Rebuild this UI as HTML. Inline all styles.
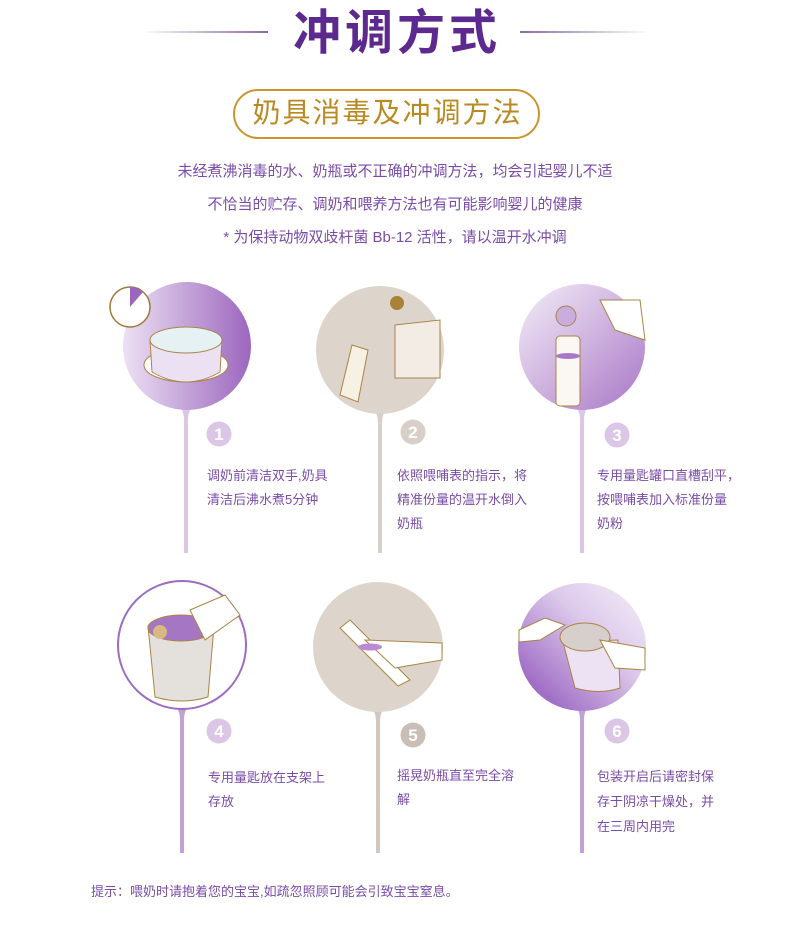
<!DOCTYPE html>
<html><head><meta charset="utf-8"><style>
body{margin:0;background:#fff;}
#w{position:relative;width:790px;height:936px;overflow:hidden;font-family:"Liberation Sans","Noto Sans CJK SC",sans-serif;}
.t{position:absolute;color:#7a4ca8;font-size:13px;line-height:24px;white-space:nowrap;}
.c{position:absolute;color:#7a4ca8;font-size:15px;width:790px;text-align:center;}
</style></head><body><div id="w">
<svg width="790" height="936" style="position:absolute;left:0;top:0">
<defs>
<linearGradient id="g1" x1="0" x2="1"><stop offset="0" stop-color="#ece1f3"/><stop offset="1" stop-color="#9c66be"/></linearGradient>
<linearGradient id="g3" x1="0" y1="0" x2="1" y2="1"><stop offset="0" stop-color="#f4eef8"/><stop offset="1" stop-color="#a877c6"/></linearGradient>
<linearGradient id="g6" x1="0" y1="1" x2="1" y2="0"><stop offset="0" stop-color="#8a4db8"/><stop offset="0.6" stop-color="#dcc8ea"/><stop offset="1" stop-color="#f5f0f9"/></linearGradient>
<linearGradient id="ln" x1="0" x2="1"><stop offset="0" stop-color="#fff"/><stop offset="1" stop-color="#8a6aa8"/></linearGradient>
<linearGradient id="ln2" x1="1" x2="0"><stop offset="0" stop-color="#fff"/><stop offset="1" stop-color="#8a6aa8"/></linearGradient>
</defs>
<rect x="140" y="31" width="128" height="2" fill="url(#ln)"/>
<rect x="520" y="31" width="130" height="2" fill="url(#ln2)"/>
<rect x="234" y="90" width="305" height="48" rx="24" fill="#fff" stroke="#c9962e" stroke-width="2"/>
<g fill="#dcc6e6"><path d="M175 402 Q184 408 184 420 L184 553 L188 553 L188 420 Q188 408 197 402Z"/></g>
<g fill="#d8cfc8"><path d="M369 405 Q378 411 378 423 L378 553 L382 553 L382 423 Q382 411 391 405Z"/></g>
<g fill="#dcc6e6"><path d="M571 402 Q580 408 580 420 L580 553 L584 553 L584 420 Q584 408 593 402Z"/></g>
<g fill="#c3a1d4"><path d="M171 702 Q180 708 180 720 L180 853 L184 853 L184 720 Q184 708 193 702Z"/></g>
<g fill="#d1c9c1"><path d="M368 704 Q376 710 376 722 L376 853 L380 853 L380 722 Q380 710 388 704Z"/></g>
<g fill="#c3a1d4"><path d="M571 702 Q580 708 580 720 L580 853 L584 853 L584 720 Q584 708 593 702Z"/></g>
<circle cx="187" cy="346" r="64" fill="url(#g1)"/>
<circle cx="130" cy="307" r="20" fill="#fff" stroke="#9c7a3a" stroke-width="1.5"/>
<path d="M130 307 L130 287 A20 20 0 0 1 143 292Z" fill="#9c66be"/>
<ellipse cx="186" cy="365" rx="42" ry="17" fill="#fff" stroke="#a98446"/>
<path d="M150 340 L152 372 Q186 392 220 372 L222 340Z" fill="#ece1f3" stroke="#a98446"/>
<ellipse cx="186" cy="340" rx="36" ry="13" fill="#e6f1f4" stroke="#a98446"/>
<circle cx="380" cy="350" r="64" fill="#ddd5cc"/>
<path d="M395 325 L440 320 L440 378 L395 378Z" fill="#f3ece4" stroke="#a98446"/>
<circle cx="397" cy="303" r="7" fill="#a88235"/>
<path d="M340 395 L352 345 L368 350 L358 402Z" fill="#f6f1e2" stroke="#a98446"/>
<circle cx="582" cy="347" r="63" fill="url(#g3)"/>
<rect x="556" y="336" width="24" height="70" rx="4" fill="#fbf8f4" stroke="#a98446"/>
<ellipse cx="568" cy="356" rx="12" ry="3" fill="#a877c6"/>
<circle cx="566" cy="316" r="10" fill="#c9aedd" stroke="#a98446"/>
<path d="M600 300 L640 300 L645 340 L615 330Z" fill="#fff" stroke="#a98446"/>
<circle cx="182" cy="645" r="64" fill="#fff" stroke="#9d6cc0" stroke-width="2"/>
<path d="M148 626 L155 697 Q182 705 208 697 L214 626Z" fill="#e4e0dc" stroke="#a98446"/>
<ellipse cx="181" cy="628" rx="33" ry="13" fill="#a476c4" stroke="#a98446"/>
<circle cx="160" cy="632" r="7" fill="#d9b983"/>
<path d="M190 610 L225 595 L240 615 L205 640Z" fill="#fff" stroke="#a98446"/>
<circle cx="378" cy="647" r="65" fill="#ddd5cc"/>
<path d="M340 628 L350 620 L410 680 L398 686Z" fill="#fff" stroke="#a98446"/>
<path d="M365 640 L442 643 L442 660 L395 668Z" fill="#fff" stroke="#a98446"/>
<ellipse cx="370" cy="647" rx="12" ry="3.5" fill="#b88bd2"/>
<circle cx="582" cy="647" r="64" fill="url(#g6)"/>
<path d="M563 642 L575 688 Q600 695 620 688 L618 640Z" fill="#ede2f3" stroke="#a98446"/>
<ellipse cx="585" cy="637" rx="25" ry="14" fill="#d6cfcc" stroke="#a98446"/>
<path d="M519 630 L545 618 L565 625 L540 640 L519 642Z" fill="#fff" stroke="#a98446"/>
<path d="M600 640 L645 648 L645 670 L615 668Z" fill="#fff" stroke="#a98446"/>
<g font-family="Liberation Sans,sans-serif" font-weight="bold" font-size="17" fill="#fff" text-anchor="middle">
<circle cx="219" cy="434" r="12.5" fill="#dcc6e6"/><text x="219" y="440">1</text>
<circle cx="413" cy="432" r="12.5" fill="#d8cfc8"/><text x="413" y="438">2</text>
<circle cx="617" cy="435" r="12.5" fill="#dcc6e6"/><text x="617" y="441">3</text>
<circle cx="219" cy="731" r="12.5" fill="#dcc6e6"/><text x="219" y="737">4</text>
<circle cx="413" cy="735" r="12.5" fill="#c9beb5"/><text x="413" y="741">5</text>
<circle cx="617" cy="731" r="12.5" fill="#dcc6e6"/><text x="617" y="737">6</text>
</g>
</svg>
<div style="position:absolute;left:0;width:790px;top:4px;text-align:center;font-size:48px;font-weight:bold;color:#5c2a8e;line-height:60px;letter-spacing:4px;text-indent:4px">冲调方式</div>
<div style="position:absolute;left:234px;width:307px;top:92px;text-align:center;font-size:28px;color:#b98a22;line-height:42px;letter-spacing:2px">奶具消毒及冲调方法</div>
<div class="c" style="top:160px">未经煮沸消毒的水、奶瓶或不正确的冲调方法，均会引起婴儿不适</div>
<div class="c" style="top:193px">不恰当的贮存、调奶和喂养方法也有可能影响婴儿的健康</div>
<div class="c" style="top:226px">* 为保持动物双歧杆菌 Bb-12 活性，请以温开水冲调</div>
<div class="t" style="left:207px;top:464px">调奶前清洁双手,奶具<br>清洁后沸水煮5分钟</div>
<div class="t" style="left:397px;top:464px">依照喂哺表的指示，将<br>精准份量的温开水倒入<br>奶瓶</div>
<div class="t" style="left:597px;top:464px">专用量匙罐口直槽刮平，<br>按喂哺表加入标准份量<br>奶粉</div>
<div class="t" style="left:208px;top:766px">专用量匙放在支架上<br>存放</div>
<div class="t" style="left:397px;top:764px">摇晃奶瓶直至完全溶<br>解</div>
<div class="t" style="left:597px;top:764px;line-height:25px">包装开启后请密封保<br>存于阴凉干燥处，并<br>在三周内用完</div>
<div class="t" style="left:91px;top:880px">提示：喂奶时请抱着您的宝宝,如疏忽照顾可能会引致宝宝窒息。</div>
</div></body></html>
